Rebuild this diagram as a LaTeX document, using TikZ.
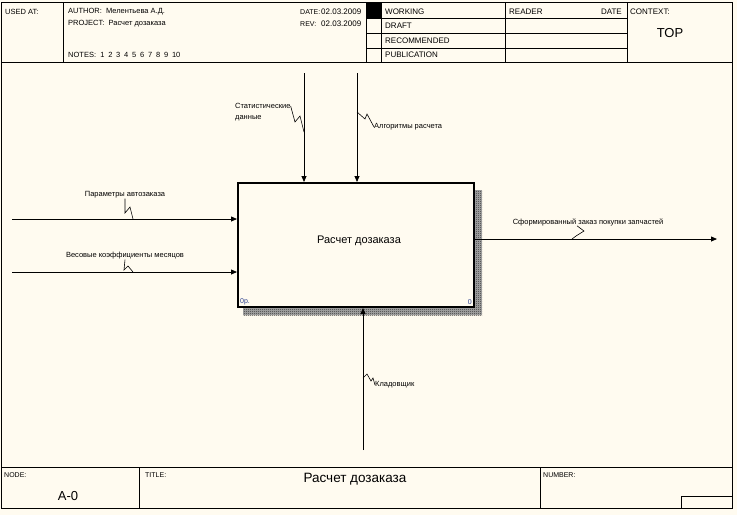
\documentclass[tikz,border=0pt]{standalone}
\usepackage{fontspec}
\setmainfont{Liberation Sans}
\usetikzlibrary{arrows.meta,patterns.meta}
\definecolor{bg}{RGB}{255,251,240}
\definecolor{numblue}{RGB}{40,60,140}
\tikzdeclarepattern{name=chk, type=uncolored, bottom left={(0pt,0pt)}, top right={(2pt,2pt)}, tile size={(2pt,2pt)}, code={\fill (0pt,0pt) rectangle (1pt,1pt); \fill (1pt,1pt) rectangle (2pt,2pt);}}
\begin{document}
\begin{tikzpicture}[x=1pt,y=-1pt,
  small/.style={font=\fontsize{7.5}{9.5}\selectfont, inner sep=0pt},
  stat/.style={font=\fontsize{8}{9}\selectfont, inner sep=0pt, anchor=west},
  tiny/.style={font=\fontsize{7}{8}\selectfont, inner sep=0pt, anchor=west},
  frame/.style={line width=1pt},
  grid/.style={line width=0.8pt},
  arr/.style={line width=0.8pt, -{Triangle[length=6pt,width=5pt]}},
  sq/.style={line width=0.6pt},
  shadow/.style={fill=black!30, postaction={pattern=chk, pattern color=black}},
]
\fill[bg] (0,0) rectangle (737,515);
\useasboundingbox (0,0) rectangle (737,515);

% frame
\draw[frame] (1,2) rectangle (732,508);
\draw[frame] (1,62) -- (732,62);
\draw[frame] (1,467) -- (732,467);
% header grid
\draw[grid] (63,2) -- (63,62);
\draw[grid] (366,2) -- (366,62);
\draw[grid] (381,2) -- (381,62);
\draw[grid] (505,2) -- (505,62);
\draw[grid] (627,2) -- (627,62);
\draw[grid] (366,18) -- (627,18);
\draw[grid] (366,33) -- (627,33);
\draw[grid] (366,48) -- (627,48);
\fill (366,2) rectangle (381,18);
% footer grid
\draw[grid] (139,467) -- (139,508);
\draw[grid] (540,467) -- (540,508);
\draw[grid] (681,508) -- (681,496) -- (732,496);

% header texts
\node[small, anchor=west] (usedat) at (5,12) {USED AT:};
\node[small, anchor=west] (author) at (68,12) {AUTHOR:\ \ Мелентьева А.Д.};
\node[small, anchor=west] (project) at (68,24) {PROJECT:\ \ Расчет дозаказа};
\node[small, anchor=west] (notes) at (68,55) {NOTES:\ \ 1\hspace{3.8pt}2\hspace{3.8pt}3\hspace{3.8pt}4\hspace{3.8pt}5\hspace{3.8pt}6\hspace{3.8pt}7\hspace{3.8pt}8\hspace{3.8pt}9\hspace{3.8pt}10};
\node[tiny] (datel) at (300,12) {DATE:};
\node[stat] (datev) at (321,12) {02.03.2009};
\node[tiny] (revl) at (300,24) {REV:};
\node[stat] (revv) at (321,24) {02.03.2009};
\node[stat] (working) at (385,12) {WORKING};
\node[stat] (draft) at (385,26) {DRAFT};
\node[stat] (recom) at (385,41) {RECOMMENDED};
\node[stat] (publ) at (385,55) {PUBLICATION};
\node[stat] (reader) at (509,12) {READER};
\node[stat, anchor=east] (rdate) at (622,12) {DATE};
\node[stat] (context) at (630,12) {CONTEXT:};
\node[font=\fontsize{13}{15}\selectfont, inner sep=0pt] (top) at (670,33) {TOP};

% footer texts
\node[tiny] (nodel) at (4,475) {NODE:};
\node[font=\fontsize{13}{15}\selectfont, inner sep=0pt] (nodev) at (68,496) {A-0};
\node[tiny] (titlel) at (145,475) {TITLE:};
\node[font=\fontsize{13.5}{16}\selectfont, inner sep=0pt] (titlev) at (355,479) {Расчет дозаказа};
\node[tiny] (numberl) at (543,475) {NUMBER:};

% activity box with shadow
\path[shadow] (474,190) rectangle (482,315);
\path[shadow] (243,307) rectangle (474,315);
\node[draw, line width=2pt, minimum width=236pt, minimum height=124pt, inner sep=0pt] (box) at (356,245) {};
\node[font=\fontsize{11}{13}\selectfont, inner sep=0pt] (boxlbl) at (359,241) {Расчет дозаказа};
\node[tiny, text=numblue] (boxnum) at (240,302) {0р.};
\node[tiny, anchor=east, text=numblue] (boxno) at (472,302) {0};

% arrow end points
\coordinate (in1) at (12,219);
\coordinate (in2) at (12,272);
\coordinate (c1) at (304,73);
\coordinate (c2) at (357,73);
\coordinate (out) at (717,239);
\coordinate (m1) at (363,450);

% arrows
\draw[arr] (in1) -- (in1 -| box.west);
\draw[arr] (in2) -- (in2 -| box.west);
\draw[arr] (c1) -- (c1 |- box.north);
\draw[arr] (c2) -- (c2 |- box.north);
\draw[arr] (out -| box.east) -- (out);
\draw[arr] (m1) -- (m1 |- box.south);

% labels
\node[small] (lab1) at (125,195) {Параметры автозаказа};
\node[small] (lab2) at (125,256) {Весовые коэффициенты месяцов};
\node[small, anchor=west, align=left, font=\fontsize{7.5}{10.5}\selectfont] (lab3) at (235,112) {Статистические\\данные};
\node[small, anchor=west] (lab4) at (374,127) {Алгоритмы расчета};
\node[small] (lab5) at (588,222) {Сформированный заказ покупки запчастей};
\node[small, anchor=west] (lab6) at (375,385) {Кладовщик};

% squiggles
\draw[sq] (lab1.south) -- (125,213) -- (130,207) -- (133,219);
\draw[sq] (lab2.south) -- (124,270) -- (128,266) -- (133,272);
\draw[sq] ([yshift=6pt]lab3.east) -- (295,122) -- (300,116) -- (304,132);
\draw[sq] (357,112) -- (365,119) -- (367,114) -- (lab4.west);
\draw[sq] ([xshift=-11pt]lab5.south) -- (584,231) -- (576,236) -- (572,239);
\draw[sq] (363,378) -- (367,374) -- (371,381) -- (373,378) -- (lab6.west);
\end{tikzpicture}
\end{document}
